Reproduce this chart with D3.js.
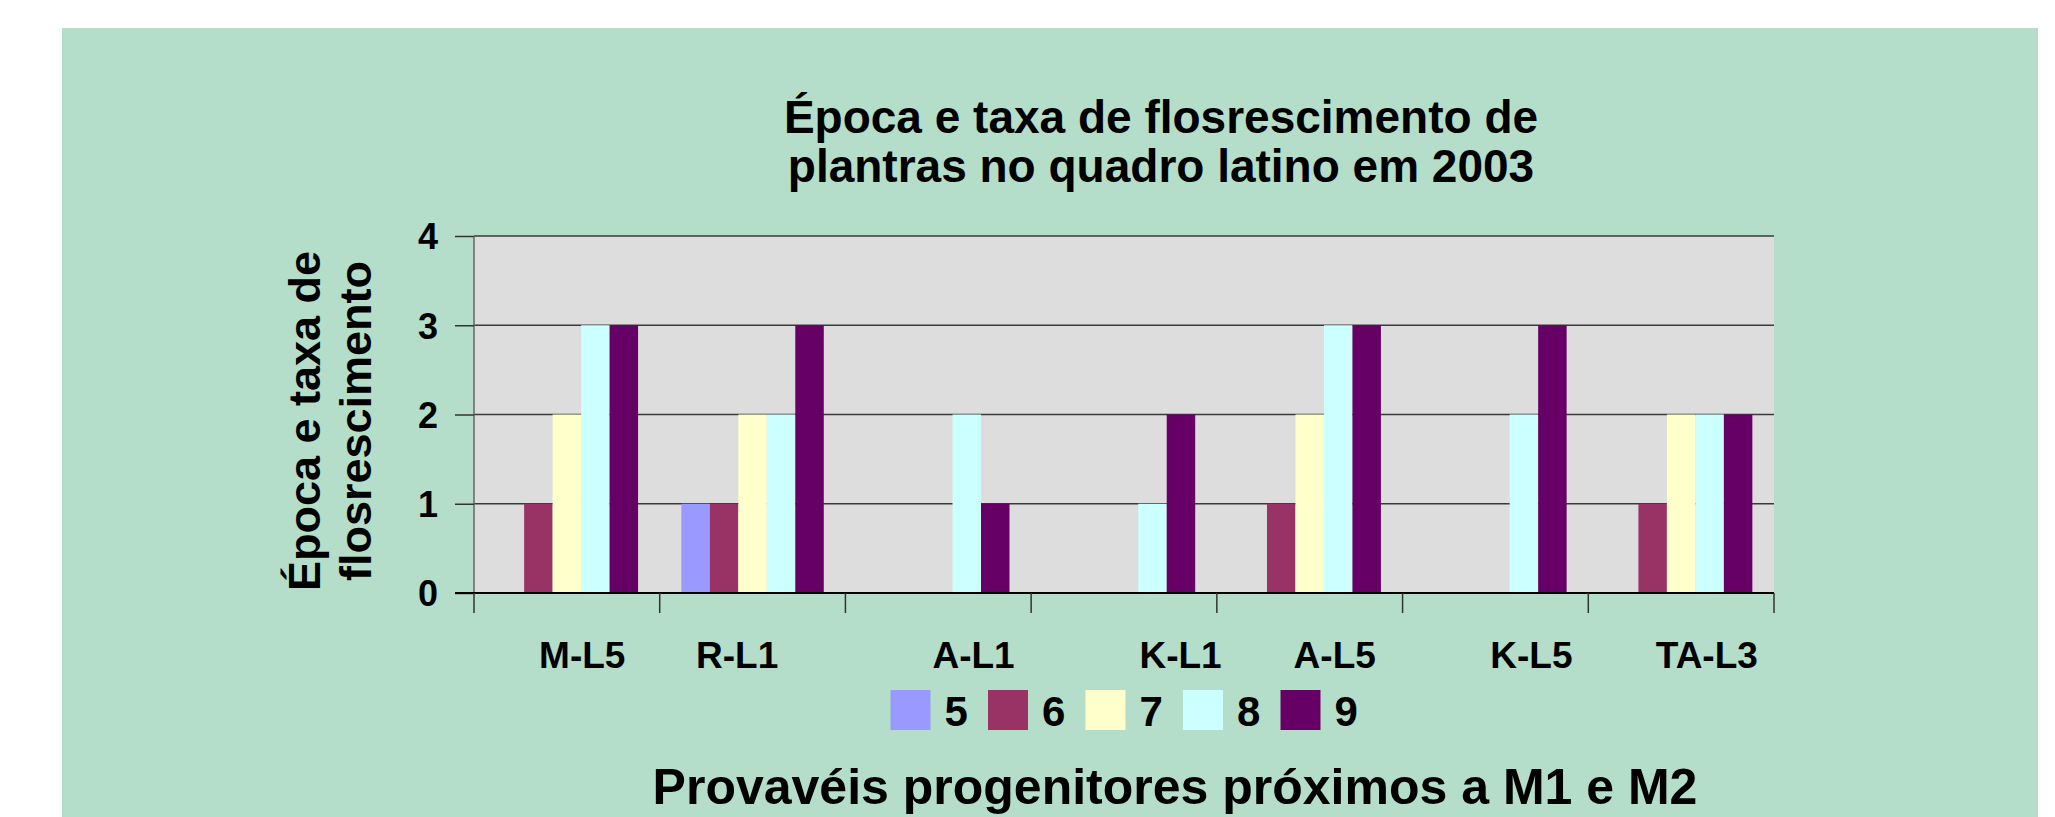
<!DOCTYPE html>
<html>
<head>
<meta charset="utf-8">
<script src="https://cdn.jsdelivr.net/npm/d3@7"></script>
<style>
body { margin: 0; background: #fff; }
text { font-family: "Liberation Sans", Arial, sans-serif; font-weight: bold; fill: #000; }
</style>
</head>
<body>
<div id="chart"></div>
<script>
// category strings kept as typed in the sheet (with their padding spaces)
var categories = ['   M-L5', 'R-L1   ', '       A-L1', '           K-L1', '     A-L5', '       K-L5', '     TA-L3']
var seriesNames = ['5', '6', '7', '8', '9']
var seriesColors = ['#9999ff', '#993366', '#ffffcc', '#ccffff', '#660066']
var s5 = [0, 1, 0, 0, 0, 0, 0]
var s6 = [1, 1, 0, 0, 1, 0, 1]
var s7 = [2, 2, 0, 0, 2, 0, 2]
var s8 = [3, 2, 2, 1, 3, 2, 2]
var s9 = [3, 3, 1, 2, 3, 3, 2]
var yTicks = [0, 1, 2, 3, 4]
var titleLines = ['Época e taxa de flosrescimento de', 'plantras no quadro latino em 2003']
var yTitleLines = ['Época e taxa de', 'flosrescimento']
var xTitle = 'Provavéis progenitores próximos a M1 e M2'

var seriesValues = [s5, s6, s7, s8, s9]
var bars = []
categories.forEach(function(c, i){
  seriesNames.forEach(function(s, j){
    bars.push({cat: c, series: s, value: seriesValues[j][i], color: seriesColors[j]})
  })
})

var W = 2055, H = 817
var plot = {left: 474, top: 236, right: 1774, bottom: 593}

var svg = d3.select('#chart').append('svg')
  .attr('width', W).attr('height', H)

// green chart area
svg.append('rect')
  .attr('x', 62).attr('y', 28).attr('width', 2038 - 62).attr('height', H - 28)
  .attr('fill', '#b4dec9')

var x = d3.scaleBand().domain(categories).range([plot.left, plot.right])
var xInner = d3.scaleBand().domain(seriesNames).range([0, x.bandwidth()]).paddingOuter(0.76)
var y = d3.scaleLinear().domain([0, 4]).range([plot.bottom, plot.top])

svg.append('rect')
  .attr('x', plot.left).attr('y', plot.top)
  .attr('width', plot.right - plot.left).attr('height', plot.bottom - plot.top)
  .attr('fill', '#dddddd')

// gridlines
svg.append('g').selectAll('line')
  .data(yTicks.filter(d => d > 0))
  .join('line')
  .attr('x1', plot.left).attr('x2', plot.right)
  .attr('y1', d => y(d)).attr('y2', d => y(d))
  .attr('stroke', '#3a3a3a').attr('stroke-width', 1.6)

svg.append('line')
  .attr('x1', plot.left).attr('x2', plot.left)
  .attr('y1', plot.top).attr('y2', plot.bottom)
  .attr('stroke', '#666').attr('stroke-width', 1.5)

// bars
svg.append('g').selectAll('rect')
  .data(bars.filter(d => d.value > 0))
  .join('rect')
  .attr('x', d => x(d.cat) + xInner(d.series))
  .attr('width', xInner.bandwidth())
  .attr('y', d => y(d.value))
  .attr('height', d => y(0) - y(d.value))
  .attr('fill', d => d.color)

// y axis
var yAxis = svg.append('g')
  .attr('transform', 'translate(' + plot.left + ',0)')
  .call(d3.axisLeft(y).tickValues(yTicks).tickFormat(d3.format('d')).tickSize(19).tickPadding(17))
yAxis.select('.domain').remove()
yAxis.selectAll('.tick line').attr('stroke', '#333').attr('stroke-width', 1.5)
yAxis.selectAll('.tick text').style('font-size', '36px').attr('dy', '0.36em')

// x axis: zero line, boundary ticks, labels
svg.append('line')
  .attr('x1', plot.left - 19).attr('x2', plot.right)
  .attr('y1', y(0)).attr('y2', y(0))
  .attr('stroke', '#000').attr('stroke-width', 2)

var bounds = categories.map(c => x(c)).concat([x.range()[1]])
svg.append('g').selectAll('line')
  .data(bounds)
  .join('line')
  .attr('x1', d => d).attr('x2', d => d)
  .attr('y1', y(0)).attr('y2', y(0) + 20)
  .attr('stroke', '#333').attr('stroke-width', 1.5)

svg.append('g').selectAll('text')
  .data(categories)
  .join('text')
  .attr('x', d => x(d) + x.bandwidth() / 2)
  .attr('y', 668)
  .attr('text-anchor', 'middle')
  .attr('xml:space', 'preserve')
  .style('white-space', 'pre')
  .style('font-size', '37px')
  .text(d => d)

// legend
var legendStep = 97.5
var legendLeft = (plot.left + plot.right) / 2 - 233.5
var legend = svg.append('g').selectAll('g')
  .data(seriesNames)
  .join('g')
  .attr('transform', (d, i) => 'translate(' + (legendLeft + i * legendStep) + ',690)')
legend.append('rect')
  .attr('width', 40).attr('height', 40)
  .attr('fill', (d, i) => seriesColors[i])
legend.append('text')
  .attr('x', 54).attr('y', 36)
  .style('font-size', '42px')
  .text(d => d)

// titles
svg.append('text')
  .attr('text-anchor', 'middle')
  .style('font-size', '46px')
  .selectAll('tspan')
  .data(titleLines)
  .join('tspan')
  .attr('x', 1161)
  .attr('y', (d, i) => 133 + i * 49)
  .text(d => d)

svg.append('g')
  .attr('transform', 'translate(320,421) rotate(-90)')
  .append('text')
  .attr('text-anchor', 'middle')
  .style('font-size', '45px')
  .selectAll('tspan')
  .data(yTitleLines)
  .join('tspan')
  .attr('x', 0)
  .attr('y', (d, i) => i * 51)
  .text(d => d)

svg.append('text')
  .attr('x', 1175).attr('y', 804)
  .attr('text-anchor', 'middle')
  .style('font-size', '50px')
  .text(xTitle)
</script>
</body>
</html>
